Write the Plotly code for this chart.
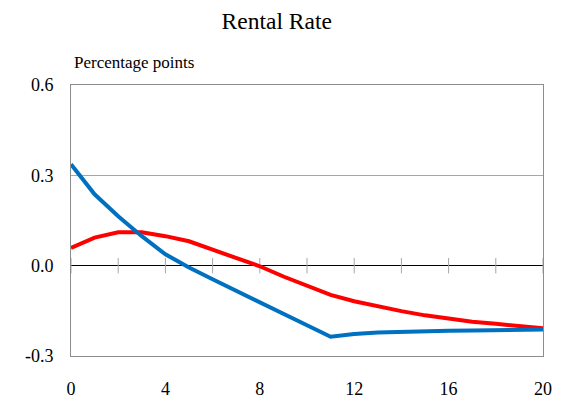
import plotly.graph_objects as go

quarters = list(range(0, 21))
blue_series = [0.337, 0.237, 0.164, 0.098, 0.038, -0.006, -0.045, -0.084, -0.122,
               -0.160, -0.198, -0.236, -0.227, -0.222, -0.219, -0.217, -0.216,
               -0.215, -0.214, -0.213, -0.212]
red_series = [0.059, 0.093, 0.111, 0.111, 0.098, 0.081, 0.053, 0.026, -0.002,
              -0.036, -0.068, -0.097, -0.118, -0.136, -0.151, -0.165, -0.177,
              -0.186, -0.193, -0.200, -0.208]
tick_marks_x = list(range(0, 21, 2))
y_ticks = [-0.3, 0.0, 0.3, 0.6]
y_tick_labels = ["-0.3", "0.0", "0.3", "0.6"]
x_ticks = [0, 4, 8, 12, 16, 20]

serif = "Liberation Serif"

fig = go.Figure()
fig.add_trace(go.Scatter(
    x=tick_marks_x, y=[0] * len(tick_marks_x), mode="markers",
    marker=dict(symbol="line-ns", size=11, line=dict(width=1, color="#a6a6a6")),
    hoverinfo="skip", showlegend=False, cliponaxis=False))
fig.add_trace(go.Scatter(x=quarters, y=red_series, mode="lines",
                         line=dict(color="#ff0000", width=4), showlegend=False))
fig.add_trace(go.Scatter(x=quarters, y=blue_series, mode="lines",
                         line=dict(color="#0070c0", width=4), showlegend=False))

# page body has an 8px margin, so the figure is 8px smaller in each direction
fig.update_layout(
    width=559, height=392,
    margin=dict(l=63, r=24, t=77, b=44, autoexpand=False),
    paper_bgcolor="white", plot_bgcolor="white",
    font=dict(family=serif, color="black", size=18),
    title=dict(text="Rental Rate", x=0.4807, xanchor="center", y=0.967, yanchor="middle",
               font=dict(family=serif, size=23.5, color="black")),
    annotations=[dict(text="Percentage points", xref="paper", yref="paper",
                      x=0.0, y=1.0, xanchor="left", yanchor="bottom", yshift=11, xshift=1,
                      showarrow=False, font=dict(family=serif, size=17, color="black"))],
)
fig.update_xaxes(range=[0, 20], tickvals=x_ticks, showgrid=False, zeroline=False,
                 showline=True, mirror=True, linecolor="#8c8c8c", linewidth=1,
                 ticks="", ticklabelstandoff=16, tickfont=dict(family=serif, size=18),
                 automargin=False)
fig.update_yaxes(range=[-0.3, 0.6], tickvals=y_ticks, ticktext=y_tick_labels,
                 showgrid=True, gridcolor="#a6a6a6", gridwidth=1,
                 zeroline=True, zerolinecolor="black", zerolinewidth=1,
                 showline=True, mirror=True, linecolor="#8c8c8c", linewidth=1,
                 ticks="", ticklabelstandoff=13, tickfont=dict(family=serif, size=18),
                 automargin=False)

fig.write_html("out.html")
